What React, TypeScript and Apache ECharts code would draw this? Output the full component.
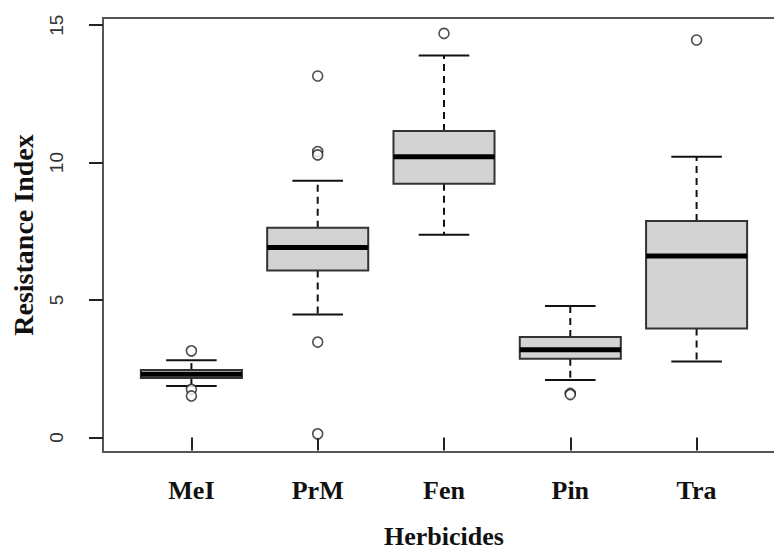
import React, { useEffect, useRef } from "react";
import * as echarts from "echarts";

const categories = ["MeI", "PrM", "Fen", "Pin", "Tra"];
const lowerWhisker = [1.87, 4.47, 7.37, 2.09, 2.76];
const q1 = [2.16, 6.07, 9.23, 2.86, 3.96];
const median = [2.3, 6.91, 10.21, 3.19, 6.6];
const q3 = [2.45, 7.63, 11.15, 3.65, 7.87];
const upperWhisker = [2.81, 9.34, 13.9, 4.78, 10.21];
const outlierGroup = [1, 1, 1, 2, 2, 2, 2, 2, 3, 4, 4, 5];
const outlierValue = [3.15, 1.75, 1.51, 13.15, 10.4, 10.28, 3.47, 0.13, 14.7, 1.6, 1.56, 14.46];
const yTicks = [0, 5, 10, 15];
const xTicks = [1, 2, 3, 4, 5];

export default function App() {
  const ref = useRef<HTMLDivElement>(null);
  useEffect(() => {
    if (!ref.current) return;
    const chart = echarts.init(ref.current, null, { renderer: "svg" });
    const boxData = categories.map((_, i) => [i + 1, lowerWhisker[i], q1[i], median[i], q3[i], upperWhisker[i]]);
    const outData = outlierGroup.map((g, i) => [g, outlierValue[i]]);
    chart.setOption({
      animation: false,
      backgroundColor: "#fff",
      grid: {
        left: 103,
        right: 0,
        top: 18,
        bottom: 97,
        show: true,
        borderColor: "#555",
        borderWidth: 2,
      },
      xAxis: {
        type: "value",
        min: 0.3,
        max: 5.7,
        splitLine: { show: false },
        axisLine: { show: false },
        axisTick: { show: true, length: 13, customValues: xTicks, lineStyle: { color: "#222", width: 2 } },
        axisLabel: {
          customValues: xTicks,
          formatter: (v: number) => categories[Math.round(v) - 1] ?? "",
          fontFamily: "Liberation Serif",
          fontWeight: "bold",
          fontSize: 26,
          color: "#111",
          margin: 25,
        },
        name: "Herbicides",
        nameLocation: "middle",
        nameGap: 71,
        nameTextStyle: { fontFamily: "Liberation Serif", fontWeight: "bold", fontSize: 26, color: "#111" },
      },
      yAxis: {
        type: "value",
        min: -0.53,
        max: 15.26,
        splitLine: { show: false },
        axisLine: { show: false },
        axisTick: { show: true, length: 14, customValues: yTicks, lineStyle: { color: "#222", width: 2 } },
        axisLabel: {
          customValues: yTicks,
          rotate: 90,
          fontFamily: "Liberation Sans",
          fontSize: 19,
          color: "#333",
          margin: 37,
        },
        name: "Resistance Index",
        nameLocation: "middle",
        nameRotate: 90,
        nameGap: 66,
        nameTextStyle: { fontFamily: "Liberation Serif", fontWeight: "bold", fontSize: 28, color: "#111" },
      },
      series: [
        {
          type: "custom",
          data: boxData,
          renderItem: (params: any, api: any) => {
            const x = api.value(0);
            const lo = api.coord([x, api.value(1)]);
            const b1 = api.coord([x, api.value(2)]);
            const md = api.coord([x, api.value(3)]);
            const b3 = api.coord([x, api.value(4)]);
            const hi = api.coord([x, api.value(5)]);
            const w = api.size([0.8, 0])[0];
            const cx = lo[0];
            const cap = w / 4;
            const dash = { stroke: "#111", lineWidth: 2, lineDash: [7, 5] };
            const solid = { stroke: "#111", lineWidth: 2 };
            return {
              type: "group",
              children: [
                { type: "line", shape: { x1: cx, y1: b3[1], x2: cx, y2: hi[1] }, style: dash },
                { type: "line", shape: { x1: cx, y1: b1[1], x2: cx, y2: lo[1] }, style: dash },
                { type: "line", shape: { x1: cx - cap, y1: hi[1], x2: cx + cap, y2: hi[1] }, style: solid },
                { type: "line", shape: { x1: cx - cap, y1: lo[1], x2: cx + cap, y2: lo[1] }, style: solid },
                {
                  type: "rect",
                  shape: { x: cx - w / 2, y: b3[1], width: w, height: b1[1] - b3[1] },
                  style: { fill: "#d3d3d3", stroke: "#333", lineWidth: 2 },
                },
                { type: "line", shape: { x1: cx - w / 2, y1: md[1], x2: cx + w / 2, y2: md[1] }, style: { stroke: "#000", lineWidth: 5 } },
              ],
            };
          },
        },
        {
          type: "scatter",
          data: outData,
          symbol: "circle",
          symbolSize: 10,
          itemStyle: { color: "#fff", borderColor: "#222", borderWidth: 1.6 },
        },
      ],
    });
    return () => chart.dispose();
  }, []);
  return (
    <div style={{ position: "absolute", left: 0, top: 0, width: 774, height: 554, overflow: "hidden", background: "#fff" }}>
      <div ref={ref} style={{ width: 785, height: 554 }} />
    </div>
  );
}
